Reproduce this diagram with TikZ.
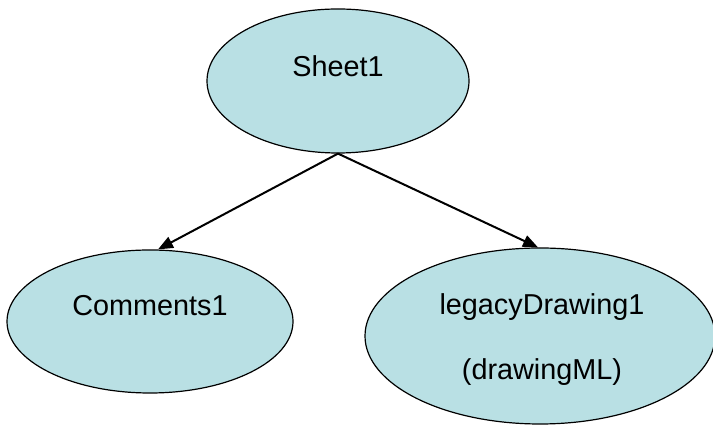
\documentclass[tikz,border=0pt]{standalone}
\usepackage{fontspec}
\setmainfont{Liberation Sans}
\usetikzlibrary{shapes.geometric,arrows.meta}
\definecolor{ellfill}{RGB}{185,224,228}
\tikzset{
  ell/.style={ellipse, draw=black, line width=0.6pt, fill=ellfill, inner sep=0pt},
  lbl/.style={font=\fontsize{14.4}{17}\selectfont, inner sep=0pt, anchor=base},
  conn/.style={line width=1pt, -{Triangle[length=7.5pt,width=6pt]}}
}
\begin{document}
\begin{tikzpicture}[x=0.5pt,y=-0.5pt]
\useasboundingbox (0,0) rectangle (713,426);
\node[ell, minimum width=131pt, minimum height=72pt] (s) at (338,81) {};
\node[ell, minimum width=143pt, minimum height=71.5pt] (c) at (150,321.5) {};
\node[ell, minimum width=175pt, minimum height=88pt] (l) at (540,336) {};
\node[lbl] (st) at (338,77) {Sheet1};
\node[lbl] (ct) at (150,316) {Comments1};
\node[lbl] (lt1) at (542,315) {legacyDrawing1};
\node[lbl] (lt2) at (542,380) {(drawingML)};
\draw[conn] (s.south) -- ([xshift=4pt]c.north);
\draw[conn] (s.south) -- ([xshift=-1pt]l.north);
\end{tikzpicture}
\end{document}
